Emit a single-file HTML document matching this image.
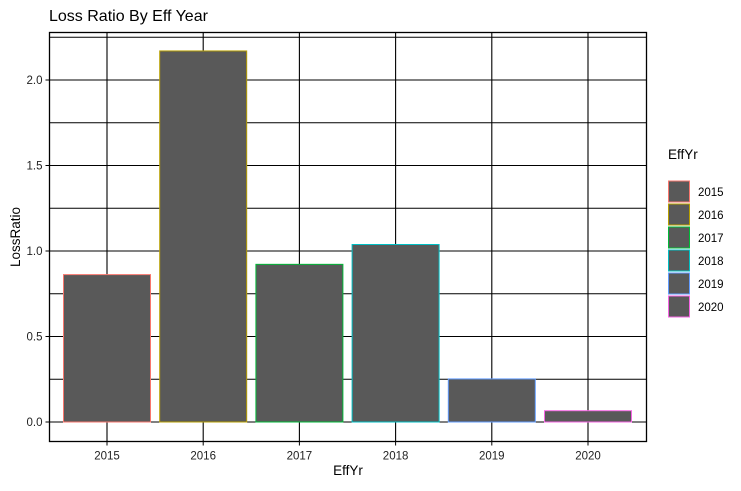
<!DOCTYPE html>
<html><head><meta charset="utf-8"><style>body{margin:0;background:#fff}svg text{font-family:"Liberation Sans",Arial,sans-serif}</style></head>
<body>
<svg id="c" width="741" height="486" xmlns="http://www.w3.org/2000/svg">
<text x="49" y="21" font-size="16" fill="#000">Loss Ratio By Eff Year</text>
<g id="grid"></g><g id="bars"></g><g id="axes"></g><g id="legend"></g>
</svg>
<script>
const categories=["2015","2016","2017","2018","2019","2020"];
const lossRatio=[0.862,2.17,0.922,1.038,0.252,0.066];
const colors=["#F8766D","#B79F00","#00BA38","#00BFC4","#619CFF","#F564E3"];
const yTicks=[0,0.5,1,1.5,2];
const yTickLabels=["0.0","0.5","1.0","1.5","2.0"];
const ns="http://www.w3.org/2000/svg";
const L=49.5,R=646.5,T=32.5,B=441.5;
function y(v){return 422-v*171;}
function x(i){return 107+i*96.2;}
function mk(t,a,p){const e=document.createElementNS(ns,t);for(const k in a)e.setAttribute(k,a[k]);p.appendChild(e);return e;}
const g=document.getElementById('grid'),b=document.getElementById('bars'),ax=document.getElementById('axes'),lg=document.getElementById('legend');
for(let v=0;v<=2.25;v+=0.25){const l=mk('line',{x1:L,x2:R,y1:y(v),y2:y(v),stroke:'#000','stroke-width':1},g);

}
categories.forEach((c,i)=>{const l=mk('line',{x1:x(i),x2:x(i),y1:T,y2:B,stroke:'#000','stroke-width':1.1},g);

});
categories.forEach((c,i)=>{const w=87;const r=mk('rect',{x:x(i)-w/2,y:y(lossRatio[i]),width:w,height:y(0)-y(lossRatio[i]),fill:'#595959',stroke:colors[i],'stroke-width':1},b);


const tk=mk('line',{x1:x(i),x2:x(i),y1:B,y2:B+4,stroke:'#000'},ax);


const t=mk('text',{x:x(i),y:B+18,'font-size':11.5,'text-anchor':'middle',fill:'#222'},ax);t.textContent=c;

});
yTicks.forEach((v,i)=>{const tk=mk('line',{x1:L-4,x2:L,y1:y(v),y2:y(v),stroke:'#000'},ax);


const t=mk('text',{x:L-7,y:y(v)+4,'font-size':11.5,'text-anchor':'end',fill:'#222'},ax);t.textContent=yTickLabels[i];

});
const fr=mk('rect',{x:L,y:T,width:R-L,height:B-T,fill:'none',stroke:'#000','stroke-width':1.3},ax);


const xt=mk('text',{x:(L+R)/2,y:475,'font-size':13.5,'text-anchor':'middle'},ax);xt.textContent='EffYr';


const yt=mk('text',{x:0,y:0,'font-size':13.5,'text-anchor':'middle',transform:'translate(20,'+((T+B)/2)+') rotate(-90)'},ax);yt.textContent='LossRatio';


const lt=mk('text',{x:668,y:159,'font-size':13.5},lg);lt.textContent='EffYr';


categories.forEach((c,i)=>{const gy=181+i*23;
const r=mk('rect',{x:668.5,y:gy,width:21,height:21,fill:'#595959',stroke:colors[i],'stroke-width':1},lg);


const t=mk('text',{x:698,y:gy+15,'font-size':11.5},lg);t.textContent=c;

});
</script>
</body></html>
